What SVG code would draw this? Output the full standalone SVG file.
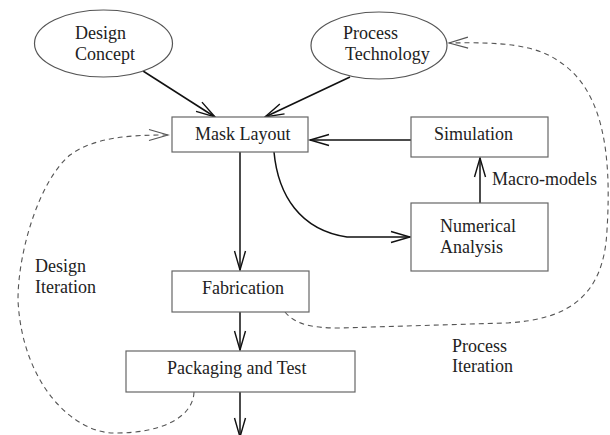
<svg xmlns="http://www.w3.org/2000/svg" width="610" height="435" viewBox="0 0 610 435">
<style>
  .box { fill: #fff; stroke: #666; stroke-width: 1.2; }
  .ell { fill: #fff; stroke: #555; stroke-width: 1.2; }
  text { font-family: 'Liberation Serif', 'DejaVu Serif', 'Times New Roman', serif; font-size: 18px; fill: #222; }
  .edge { fill: none; stroke: #111; stroke-width: 1.5; }
  .dash { fill: none; stroke: #555; stroke-width: 1.1; stroke-dasharray: 5,4; }
</style>
<defs>
  <marker id="arr" markerUnits="userSpaceOnUse" markerWidth="24" markerHeight="14" viewBox="-20 -7 22 14" refX="0" refY="0" orient="auto">
    <path d="M -19,-5.5 L 0,0 L -19,5.5" fill="none" stroke="#111" stroke-width="1.4"/>
  </marker>
  <marker id="arrd" markerUnits="userSpaceOnUse" markerWidth="24" markerHeight="14" viewBox="-20 -7 22 14" refX="0" refY="0" orient="auto">
    <path d="M -19,-5.5 L 0,0 L -19,5.5" fill="none" stroke="#555" stroke-width="1.1"/>
  </marker>
</defs>
<rect width="610" height="435" fill="#fff"/>

<g id="connectors">
  <path class="edge" d="M 143,71 L 215,117" marker-end="url(#arr)"/>
  <path class="edge" d="M 350,77 L 265,117" marker-end="url(#arr)"/>
  <path class="edge" d="M 411,140 L 310,140" marker-end="url(#arr)"/>
  <path class="edge" d="M 480,203 L 480,158" marker-end="url(#arr)"/>
  <path class="edge" d="M 274,152 C 278,195 300,230 347,237 L 410,237" marker-end="url(#arr)"/>
  <path class="edge" d="M 240,152 L 240,270" marker-end="url(#arr)"/>
  <path class="edge" d="M 240,312 L 240,350" marker-end="url(#arr)"/>
  <path class="edge" d="M 240,392 L 240,437" marker-end="url(#arr)"/>
  <path class="dash" d="M 194,392 C 193,418 160,433 117,433 C 75,435 22,385 18,300 C 18,250 40,180 70,155 C 95,137 130,135 168,135" marker-end="url(#arrd)"/>
  <path class="dash" d="M 285,312 C 295,324 310,328 340,328 L 505,323 C 570,320 604,295 607,230 C 612,150 602,90 560,62 C 535,44 500,42 449,43" marker-end="url(#arrd)"/>
  <text x="492" y="185">Macro-models</text>
  <text x="35" y="272">Design</text>
  <text x="35" y="293">Iteration</text>
  <text x="452" y="352">Process</text>
  <text x="452" y="372">Iteration</text>
</g>

<g id="design-concept">
  <ellipse class="ell" cx="103.5" cy="43.5" rx="69" ry="33.5"/>
  <text x="75" y="39">Design</text>
  <text x="75" y="60">Concept</text>
</g>
<g id="process-technology">
  <ellipse class="ell" cx="379" cy="45.5" rx="68" ry="33.5"/>
  <text x="343" y="39">Process</text>
  <text x="345" y="60">Technology</text>
</g>
<g id="mask-layout">
  <rect class="box" x="172" y="117" width="136" height="35"/>
  <text x="195" y="140">Mask Layout</text>
</g>
<g id="simulation">
  <rect class="box" x="411" y="117" width="137" height="40"/>
  <text x="434" y="140">Simulation</text>
</g>
<g id="numerical-analysis">
  <rect class="box" x="411" y="203" width="137" height="68"/>
  <text x="440" y="232">Numerical</text>
  <text x="440" y="253">Analysis</text>
</g>
<g id="fabrication">
  <rect class="box" x="172" y="271" width="137" height="41"/>
  <text x="202" y="294">Fabrication</text>
</g>
<g id="packaging-test">
  <rect class="box" x="126" y="351" width="229" height="41"/>
  <text x="167" y="374">Packaging and Test</text>
</g>
</svg>
